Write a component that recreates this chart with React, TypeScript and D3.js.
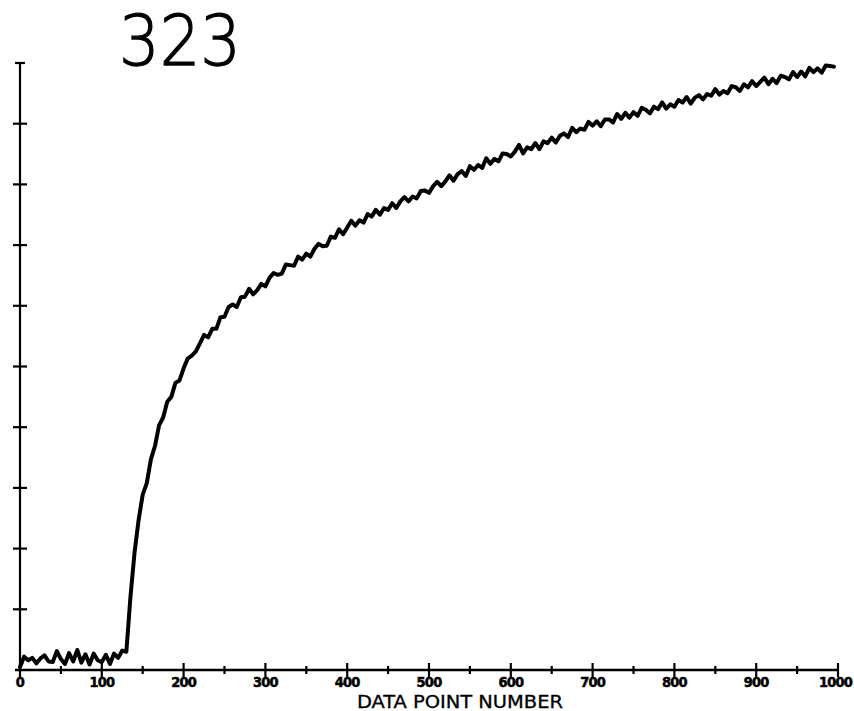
import * as d3 from 'd3';
import React, { useEffect, useRef } from 'react';

const STEP = 5;
const signal = [
    0.05, 0.22, 0.16, 0.20, 0.11, 0.19, 0.24, 0.14, 0.13, 0.31,
    0.18, 0.10, 0.28, 0.14, 0.33, 0.12, 0.26, 0.09, 0.27, 0.16,
    0.13, 0.25, 0.10, 0.27, 0.20, 0.32, 0.30, 1.20, 1.93, 2.47,
    2.89, 3.08, 3.47, 3.69, 4.03, 4.16, 4.42, 4.50, 4.73, 4.77,
    4.97, 5.13, 5.18, 5.25, 5.38, 5.52, 5.48, 5.62, 5.62, 5.81,
    5.82, 5.98, 6.02, 5.98, 6.14, 6.15, 6.28, 6.19, 6.26, 6.36,
    6.32, 6.46, 6.54, 6.51, 6.53, 6.68, 6.67, 6.66, 6.81, 6.76,
    6.86, 6.81, 6.94, 7.02, 6.98, 6.99, 7.14, 7.12, 7.26, 7.18,
    7.29, 7.40, 7.32, 7.41, 7.37, 7.51, 7.47, 7.58, 7.50, 7.61,
    7.58, 7.69, 7.61, 7.72, 7.79, 7.72, 7.80, 7.77, 7.89, 7.90,
    7.86, 7.97, 8.04, 7.97, 8.05, 8.15, 8.06, 8.17, 8.22, 8.14,
    8.30, 8.24, 8.32, 8.27, 8.43, 8.34, 8.42, 8.38, 8.51, 8.50,
    8.46, 8.54, 8.65, 8.51, 8.61, 8.58, 8.68, 8.58, 8.71, 8.68,
    8.77, 8.69, 8.80, 8.84, 8.78, 8.93, 8.86, 8.92, 8.90, 9.03,
    8.97, 9.04, 8.96, 9.07, 9.07, 9.02, 9.16, 9.08, 9.18, 9.10,
    9.19, 9.13, 9.26, 9.23, 9.17, 9.28, 9.24, 9.35, 9.25, 9.32,
    9.28, 9.39, 9.35, 9.44, 9.33, 9.43, 9.47, 9.40, 9.49, 9.46,
    9.57, 9.48, 9.54, 9.50, 9.62, 9.60, 9.54, 9.65, 9.60, 9.70,
    9.62, 9.69, 9.76, 9.65, 9.74, 9.67, 9.79, 9.77, 9.73, 9.85,
    9.77, 9.86, 9.78, 9.92, 9.85, 9.91, 9.84, 9.96, 9.95, 9.94
];

const xMajorTicks = [0, 100, 200, 300, 400, 500, 600, 700, 800, 900, 1000];
const xMinorTicks = [50, 150, 250, 350, 450, 550, 650, 750, 850, 950];
const yTicks = [1, 2, 3, 4, 5, 6, 7, 8, 9];
const title = '323';
const xLabel = 'DATA POINT NUMBER';

export default function App() {
    const target = useRef<SVGSVGElement>(null);

    useEffect(() => {
        const svg = d3.select(target.current);
        svg.selectAll('*').remove();

        const x = d3.scaleLinear().domain([0, 1000]).range([20, 838]);
        const y = d3.scaleLinear().domain([0, 10]).range([670, 63]);

        const ink = '#000';
        const last = xMajorTicks[xMajorTicks.length - 1];

        // title
        svg.append('text')
            .attr('x', 119)
            .attr('y', 65)
            .attr('textLength', 122)
            .attr('lengthAdjust', 'spacingAndGlyphs')
            .style('font-family', '"DejaVu Sans", sans-serif')
            .style('font-weight', 200)
            .style('font-size', '70px')
            .style('fill', ink)
            .style('stroke', ink)
            .style('stroke-width', 1.3)
            .text(title);

        // y axis
        svg.append('line')
            .attr('x1', x(0)).attr('x2', x(0))
            .attr('y1', y(0) + 2).attr('y2', y(10))
            .style('stroke', ink).style('stroke-width', 2.2);

        svg.append('line')
            .attr('x1', x(0) - 5).attr('x2', x(0) + 5)
            .attr('y1', y(10)).attr('y2', y(10))
            .style('stroke', ink).style('stroke-width', 2.2);

        svg.selectAll('line.ytick')
            .data(yTicks)
            .enter()
            .append('line')
            .attr('class', 'ytick')
            .attr('x1', x(0) - 7).attr('x2', x(0) + 7)
            .attr('y1', d => y(d)).attr('y2', d => y(d))
            .style('stroke', ink).style('stroke-width', 2.2);

        // x axis
        svg.append('line')
            .attr('x1', x(0) - 5).attr('x2', x(1000))
            .attr('y1', y(0)).attr('y2', y(0))
            .style('stroke', ink).style('stroke-width', 2.4);

        svg.selectAll('line.xmajor')
            .data(xMajorTicks)
            .enter()
            .append('line')
            .attr('class', 'xmajor')
            .attr('x1', d => x(d)).attr('x2', d => x(d))
            .attr('y1', y(0) - 7).attr('y2', y(0) + 7)
            .style('stroke', ink).style('stroke-width', 2.2);

        svg.selectAll('line.xminor')
            .data(xMinorTicks)
            .enter()
            .append('line')
            .attr('class', 'xminor')
            .attr('x1', d => x(d)).attr('x2', d => x(d))
            .attr('y1', y(0) - 4).attr('y2', y(0) + 4)
            .style('stroke', ink).style('stroke-width', 2.2);

        // tick labels; the last one is pulled in against the right edge
        svg.selectAll('text.xlab')
            .data(xMajorTicks)
            .enter()
            .append('text')
            .attr('class', 'xlab')
            .attr('x', d => (d === last ? 852 : x(d)))
            .attr('y', 687)
            .attr('text-anchor', d => (d === last ? 'end' : 'middle'))
            .style('font-family', '"DejaVu Sans Condensed", "DejaVu Sans", sans-serif')
            .style('font-weight', 'bold')
            .style('font-size', '14.5px')
            .style('letter-spacing', '-0.8px')
            .style('fill', ink)
            .style('stroke', ink)
            .style('stroke-width', 0.5)
            .text(d => String(d));

        svg.append('text')
            .attr('x', 357)
            .attr('y', 708)
            .attr('textLength', 206)
            .attr('lengthAdjust', 'spacingAndGlyphs')
            .style('font-family', '"DejaVu Sans Condensed", "DejaVu Sans", sans-serif')
            .style('font-size', '18px')
            .style('fill', ink)
            .style('stroke', ink)
            .style('stroke-width', 0.3)
            .text(xLabel);

        // signal trace
        const line = d3.line<number>()
            .x((d, i) => x(i * STEP))
            .y(d => y(d));

        svg.append('path')
            .attr('d', line(signal))
            .style('fill', 'none')
            .style('stroke', ink)
            .style('stroke-width', 4)
            .style('stroke-linejoin', 'round')
            .style('stroke-linecap', 'round');
    }, []);

    return (
        <svg
            ref={target}
            width={854}
            height={711}
            style={{ position: 'absolute', left: 0, top: 0, background: '#fff' }}
        />
    );
}
